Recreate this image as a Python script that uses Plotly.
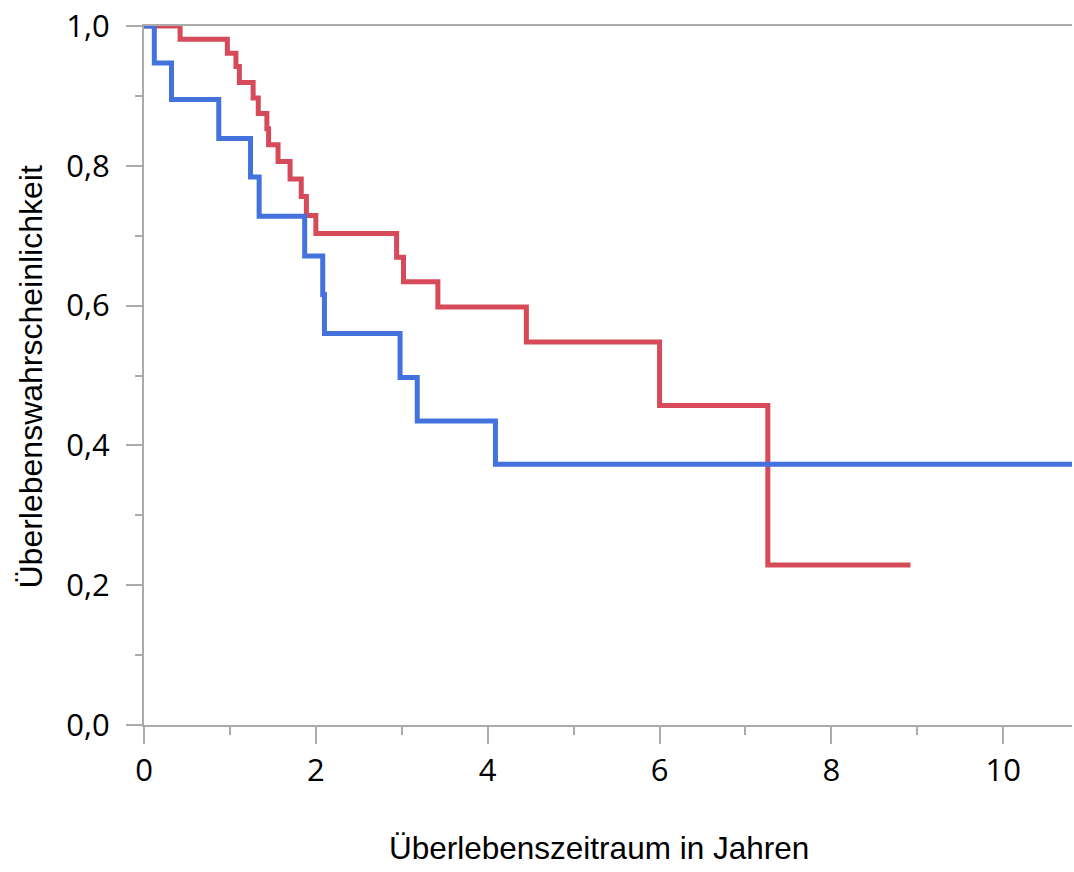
import plotly.graph_objects as go

# Group 1 (blue)
blue_time = [0, 0.12, 0.32, 0.87, 1.24, 1.34, 1.87, 2.08, 2.10, 2.98, 3.18, 4.09, 10.85]
blue_surv = [1.0, 0.947, 0.895, 0.839, 0.784, 0.728, 0.671, 0.616, 0.560, 0.497, 0.435, 0.373, 0.373]

# Group 2 (red)
red_time = [0, 0.42, 0.97, 1.07, 1.11, 1.27, 1.33, 1.43, 1.45, 1.56, 1.70, 1.83, 1.89, 2.00,
            2.94, 3.02, 3.42, 4.45, 6.00, 7.26, 8.92]
red_surv = [1.0, 0.981, 0.961, 0.942, 0.919, 0.897, 0.875, 0.853, 0.830, 0.806, 0.781, 0.756,
            0.729, 0.703, 0.669, 0.634, 0.598, 0.548, 0.457, 0.229, 0.229]

x_ticks = [0, 2, 4, 6, 8, 10]
y_ticks = [0.0, 0.2, 0.4, 0.6, 0.8, 1.0]
y_tick_labels = ["0,0", "0,2", "0,4", "0,6", "0,8", "1,0"]

x_title = "Überlebenszeitraum in Jahren"
y_title = "Überlebenswahrscheinlichkeit"

RED = "#D64A5A"
BLUE = "#4472DD"
AXIS = "#ABABAB"

W, H = 1074, 872
L, R, T, B = 144, 2, 26, 147
PW, PH = W - L - R, H - T - B

fig = go.Figure()
fig.add_trace(go.Scatter(x=red_time, y=red_surv, mode="lines", line=dict(shape="hv", color=RED, width=5),
                         showlegend=False, hoverinfo="skip"))
fig.add_trace(go.Scatter(x=blue_time, y=blue_surv, mode="lines", line=dict(shape="hv", color=BLUE, width=5),
                         showlegend=False, hoverinfo="skip"))

fig.update_layout(
    width=W, height=H,
    margin=dict(l=L, r=R, t=T, b=B, autoexpand=False),
    plot_bgcolor="white", paper_bgcolor="white",
    font=dict(family="Open Sans", color="black"),
    xaxis=dict(
        range=[0, 10.8], tickvals=x_ticks, ticktext=[str(v) for v in x_ticks], automargin=False,
        showgrid=False, zeroline=False, showline=True, linecolor=AXIS, linewidth=2, mirror=True,
        ticks="outside", ticklen=17, tickwidth=2, tickcolor=AXIS,
        tickfont=dict(family="Open Sans", size=31),
        minor=dict(dtick=1, tick0=0, ticks="outside", ticklen=8, tickwidth=2, tickcolor=AXIS, showgrid=False),
    ),
    yaxis=dict(
        range=[0, 1.0], tickvals=y_ticks, ticktext=y_tick_labels, automargin=False,
        showgrid=False, zeroline=False, showline=True, linecolor=AXIS, linewidth=2,
        ticks="outside", ticklen=16, tickwidth=2, tickcolor=AXIS, ticklabelstandoff=10,
        tickfont=dict(family="Open Sans", size=31),
        minor=dict(dtick=0.1, tick0=0, ticks="outside", ticklen=7, tickwidth=2, tickcolor=AXIS, showgrid=False),
    ),
    annotations=[
        dict(text=x_title, xref="paper", yref="paper", x=(599 - L) / PW, y=(T + PH - 848) / PH,
             xanchor="center", yanchor="middle", showarrow=False,
             font=dict(family="Liberation Sans, Arial", size=31.5, color="black")),
        dict(text=y_title, xref="paper", yref="paper", x=(30 - L) / PW, y=(T + PH - 377.5) / PH,
             xanchor="center", yanchor="middle", showarrow=False, textangle=-90,
             font=dict(family="Liberation Sans, Arial", size=32, color="black")),
    ],
)

fig.write_html("out.html", config={"displayModeBar": False},
               post_script="document.body.style.margin='0';document.body.style.overflow='hidden';")
